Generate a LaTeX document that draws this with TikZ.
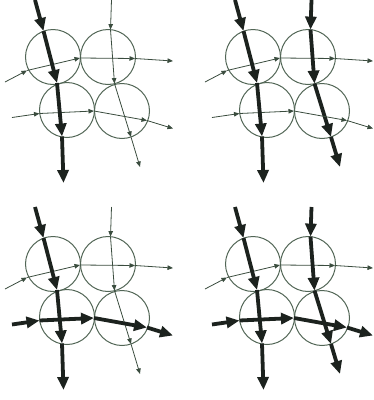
\documentclass[tikz,border=0pt]{standalone}
\usepackage{tikz}
\usetikzlibrary{arrows.meta}
\definecolor{ring}{RGB}{82,102,86}
\definecolor{fine}{RGB}{58,76,62}
\definecolor{heavy}{RGB}{28,34,30}

\begin{document}
\begin{tikzpicture}[x=1pt,y=-1pt,
  cell/.style={ring, line width=1pt},
  thinflow/.style={fine, line width=0.8pt, -{Triangle[length=5.5pt,width=4.5pt]}},
  thickflow/.style={heavy, line width=3.8pt, -{Triangle[length=13pt,width=11pt]}}]
  \useasboundingbox (0,0) rectangle (374,400);
  % four panels: right stream heavy in the right column, lower stream heavy in the bottom row
  \foreach \ox/\oy/\bflow/\dflow in {0/0/thinflow/thinflow, 200/0/thickflow/thinflow,
                                     0/207/thinflow/thickflow, 200/207/thickflow/thickflow} {
    \begin{scope}[shift={(\ox,\oy)}]
      % four touching cells
      \foreach \c in {(53,57),(108,57),(67,110),(122,111)}
        \draw[cell] \c circle (27.5pt);
      % stream points
      \coordinate (a0) at (35,0);      \coordinate (a1) at (43.5,31);
      \coordinate (a2) at (57,83);     \coordinate (a3) at (62,136.5);
      \coordinate (a4) at (63.5,183);
      \coordinate (b0) at (111.5,0);   \coordinate (b1) at (110.5,29.6);
      \coordinate (b2) at (114.5,83.6);\coordinate (b3) at (131,137);
      \coordinate (b4) at (140,167);
      \coordinate (c0) at (5,82);      \coordinate (c1) at (27,70.5);
      \coordinate (c2) at (80,58);     \coordinate (c3) at (135,58.5);
      \coordinate (c4) at (173,61);
      \coordinate (d0) at (12,117.5);  \coordinate (d1) at (39.5,113.5);
      \coordinate (d2) at (94,111);    \coordinate (d3) at (147,120.5);
      \coordinate (d4) at (173,128.5);
      % upper stream (always thin)
      \foreach \p/\q in {c0/c1,c1/c2,c2/c3,c3/c4} \draw[thinflow] (\p) -- (\q);
      % right and lower streams
      \foreach \p/\q in {b0/b1,b1/b2,b2/b3,b3/b4} \draw[\bflow] (\p) -- (\q);
      \foreach \p/\q in {d0/d1,d1/d2,d2/d3,d3/d4} \draw[\dflow] (\p) -- (\q);
      % left stream (always heavy)
      \foreach \p/\q in {a0/a1,a1/a2,a2/a3,a3/a4} \draw[thickflow] (\p) -- (\q);
    \end{scope}
  }
\end{tikzpicture}
\end{document}
